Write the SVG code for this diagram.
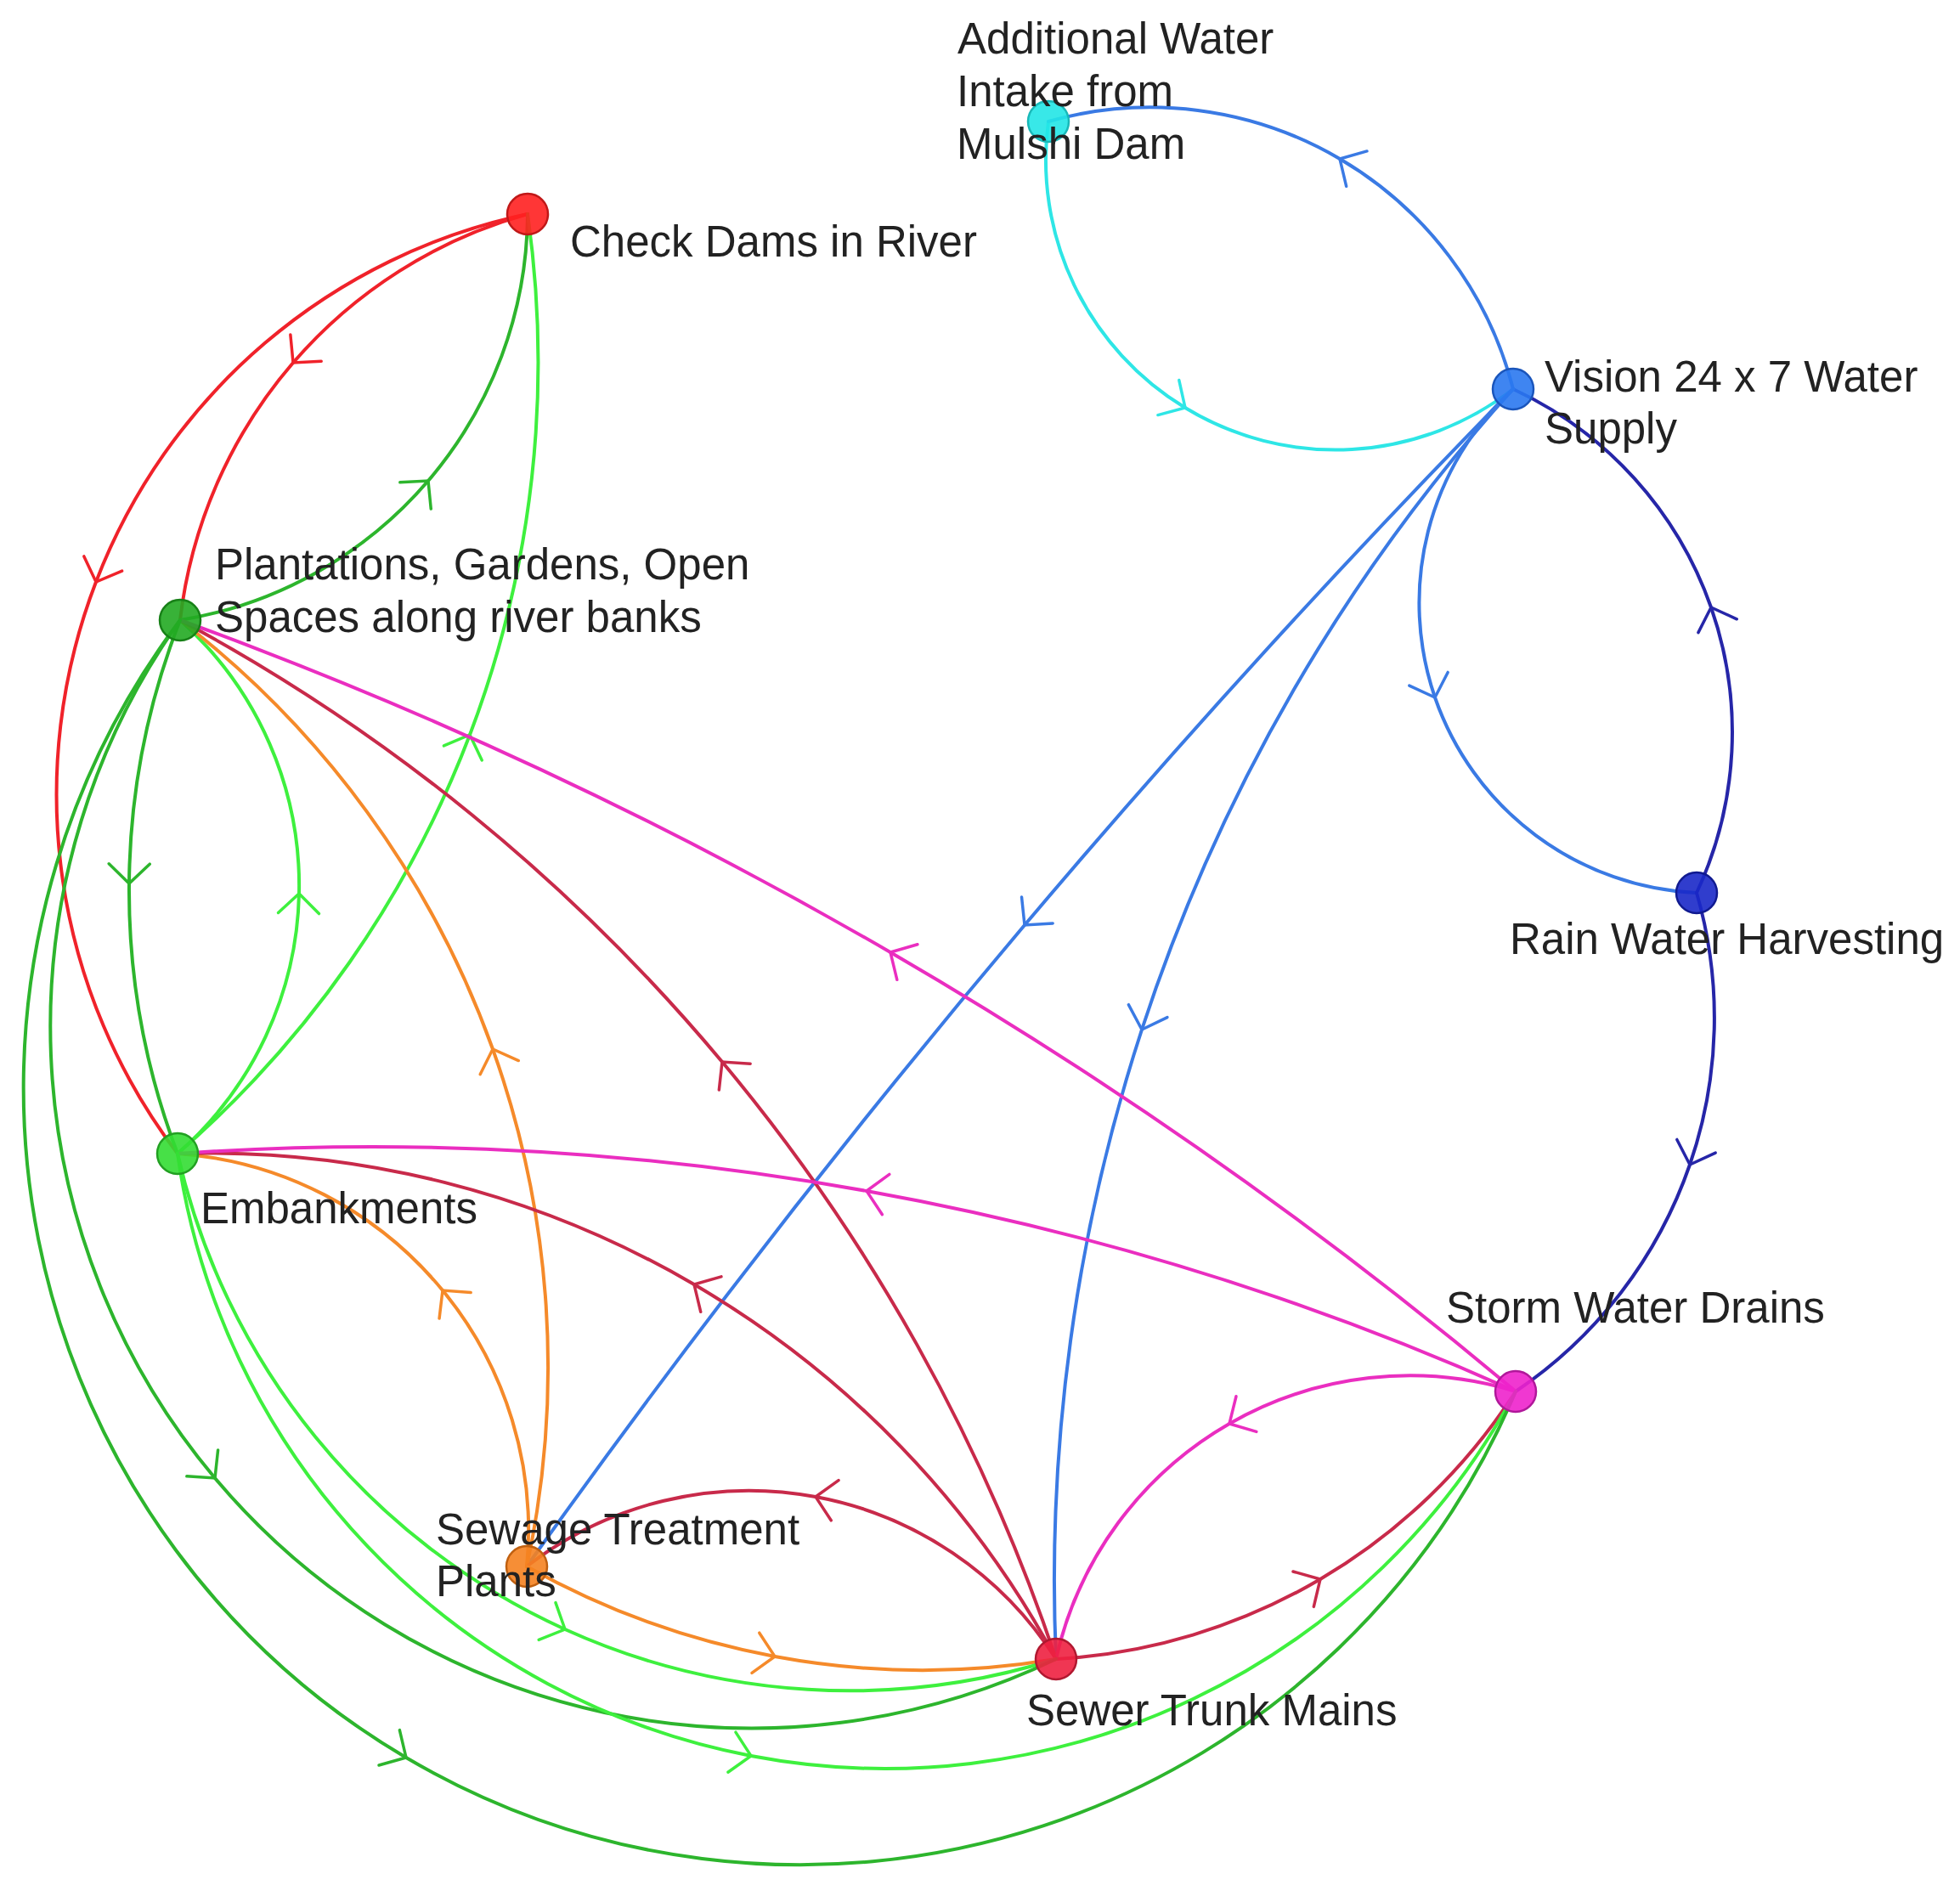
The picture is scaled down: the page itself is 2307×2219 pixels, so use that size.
<svg xmlns="http://www.w3.org/2000/svg" width="2307" height="2219" viewBox="0 0 2307 2219">
<style>
.bg{fill:#ffffff}
.e{fill:none;stroke-width:4;stroke-linecap:round}
.cy{stroke:#2ee6e6}.bl{stroke:#3a7ae4}.nv{stroke:#2626a8}.rd{stroke:#f0222a}
.dg{stroke:#2db52d}.lg{stroke:#3ef03e}.or{stroke:#f58a2a}.cr{stroke:#c82a4a}.mg{stroke:#ea2ec0}
.n{stroke-width:2.5;fill-opacity:0.9}
.t{font-family:"Liberation Sans",Arial,sans-serif;font-size:51px;fill:#222222}
.ah{fill:none;stroke-width:3.5;stroke-linecap:round;stroke-linejoin:miter}
</style>
<defs>
<marker id="a-cy" viewBox="-40 -40 80 80" markerWidth="80" markerHeight="80" markerUnits="userSpaceOnUse" orient="auto"><path class="ah" stroke="#2ee6e6" d="M-23,-24 L0,0 L-23,24"/></marker>
<marker id="a-bl" viewBox="-40 -40 80 80" markerWidth="80" markerHeight="80" markerUnits="userSpaceOnUse" orient="auto"><path class="ah" stroke="#3a7ae4" d="M-23,-24 L0,0 L-23,24"/></marker>
<marker id="a-nv" viewBox="-40 -40 80 80" markerWidth="80" markerHeight="80" markerUnits="userSpaceOnUse" orient="auto"><path class="ah" stroke="#2626a8" d="M-23,-24 L0,0 L-23,24"/></marker>
<marker id="a-rd" viewBox="-40 -40 80 80" markerWidth="80" markerHeight="80" markerUnits="userSpaceOnUse" orient="auto"><path class="ah" stroke="#f0222a" d="M-23,-24 L0,0 L-23,24"/></marker>
<marker id="a-dg" viewBox="-40 -40 80 80" markerWidth="80" markerHeight="80" markerUnits="userSpaceOnUse" orient="auto"><path class="ah" stroke="#2db52d" d="M-23,-24 L0,0 L-23,24"/></marker>
<marker id="a-lg" viewBox="-40 -40 80 80" markerWidth="80" markerHeight="80" markerUnits="userSpaceOnUse" orient="auto"><path class="ah" stroke="#3ef03e" d="M-23,-24 L0,0 L-23,24"/></marker>
<marker id="a-or" viewBox="-40 -40 80 80" markerWidth="80" markerHeight="80" markerUnits="userSpaceOnUse" orient="auto"><path class="ah" stroke="#f58a2a" d="M-23,-24 L0,0 L-23,24"/></marker>
<marker id="a-cr" viewBox="-40 -40 80 80" markerWidth="80" markerHeight="80" markerUnits="userSpaceOnUse" orient="auto"><path class="ah" stroke="#c82a4a" d="M-23,-24 L0,0 L-23,24"/></marker>
<marker id="a-mg" viewBox="-40 -40 80 80" markerWidth="80" markerHeight="80" markerUnits="userSpaceOnUse" orient="auto"><path class="ah" stroke="#ea2ec0" d="M-23,-24 L0,0 L-23,24"/></marker>
</defs>
<rect class="bg" x="0" y="0" width="2307" height="2219"/>
<g id="connectors">
<path id="e-mulshi-vision" class="e cy" marker-mid="url(#a-cy)" d="M1234,143 A341,341 0 0 0 1395,480 A341,341 0 0 0 1781,458"/>
<path id="e-vision-mulshi" class="e bl" marker-mid="url(#a-bl)" d="M1781,458 A441,441 0 0 0 1577,187 A441,441 0 0 0 1234,143"/>
<path id="e-vision-rwh" class="e bl" marker-mid="url(#a-bl)" d="M1781,458 A342,342 0 0 0 1689,821 A342,342 0 0 0 1997,1051"/>
<path id="e-rwh-vision" class="e nv" marker-mid="url(#a-nv)" d="M1997,1051 A446,446 0 0 0 2014,715 A446,446 0 0 0 1781,458"/>
<path id="e-rwh-storm" class="e nv" marker-mid="url(#a-nv)" d="M1997,1051 A530,530 0 0 1 1989,1371 A530,530 0 0 1 1784,1638"/>
<path id="e-vision-stp" class="e bl" marker-mid="url(#a-bl)" d="M1781,458 A11460,11460 0 0 0 1206,1089 A11460,11460 0 0 0 620,1844"/>
<path id="e-vision-sewer" class="e bl" marker-mid="url(#a-bl)" d="M1781,458 A2091,2091 0 0 0 1344,1212 A2091,2091 0 0 0 1243,1953"/>
<path id="e-check-plant" class="e rd" marker-mid="url(#a-rd)" d="M621,252 A564,564 0 0 0 345,427 A564,564 0 0 0 212,730"/>
<path id="e-check-emb" class="e rd" marker-mid="url(#a-rd)" d="M621,252 A698,698 0 0 0 113,685 A698,698 0 0 0 209,1358"/>
<path id="e-plant-check" class="e dg" marker-mid="url(#a-dg)" d="M212,730 A487,487 0 0 0 504,566 A487,487 0 0 0 621,252"/>
<path id="e-emb-check" class="e lg" marker-mid="url(#a-lg)" d="M209,1358 A1234,1234 0 0 0 553,865 A1234,1234 0 0 0 621,252"/>
<path id="e-plant-emb" class="e dg" marker-mid="url(#a-dg)" d="M212,730 A872,872 0 0 0 152,1040 A872,872 0 0 0 209,1358"/>
<path id="e-emb-plant" class="e lg" marker-mid="url(#a-lg)" d="M209,1358 A419,419 0 0 0 352,1052 A419,419 0 0 0 212,730"/>
<path id="e-stp-plant" class="e or" marker-mid="url(#a-or)" d="M620,1844 A1110,1110 0 0 0 580,1235 A1110,1110 0 0 0 212,730"/>
<path id="e-stp-emb" class="e or" marker-mid="url(#a-or)" d="M620,1844 A444,444 0 0 0 521,1519 A444,444 0 0 0 209,1358"/>
<path id="e-sewer-plant" class="e cr" marker-mid="url(#a-cr)" d="M1243,1953 A2172,2172 0 0 0 850,1250 A2172,2172 0 0 0 212,730"/>
<path id="e-sewer-emb" class="e cr" marker-mid="url(#a-cr)" d="M1243,1953 A1133,1133 0 0 0 817,1512 A1133,1133 0 0 0 209,1358"/>
<path id="e-storm-plant" class="e mg" marker-mid="url(#a-mg)" d="M1784,1638 A5216,5216 0 0 0 1048,1121 A5216,5216 0 0 0 212,730"/>
<path id="e-storm-emb" class="e mg" marker-mid="url(#a-mg)" d="M1784,1638 A3292,3292 0 0 0 1020,1402 A3292,3292 0 0 0 209,1358"/>
<path id="e-storm-sewer" class="e mg" marker-mid="url(#a-mg)" d="M1784,1638 A427,427 0 0 0 1447,1676 A427,427 0 0 0 1243,1953"/>
<path id="e-sewer-stp" class="e cr" marker-mid="url(#a-cr)" d="M1243,1953 A428,428 0 0 0 960,1762 A428,428 0 0 0 620,1844"/>
<path id="e-stp-sewer" class="e or" marker-mid="url(#a-or)" d="M620,1844 A950,950 0 0 0 912,1950 A950,950 0 0 0 1243,1953"/>
<path id="e-sewer-storm" class="e cr" marker-mid="url(#a-cr)" d="M1243,1953 A689,689 0 0 0 1554,1859 A689,689 0 0 0 1784,1638"/>
<path id="e-emb-sewer" class="e lg" marker-mid="url(#a-lg)" d="M209,1358 A811,811 0 0 0 665,1918 A811,811 0 0 0 1243,1953"/>
<path id="e-plant-sewer" class="e dg" marker-mid="url(#a-dg)" d="M212,730 A826,826 0 0 0 253,1740 A826,826 0 0 0 1243,1953"/>
<path id="e-emb-storm" class="e lg" marker-mid="url(#a-lg)" d="M209,1358 A842,842 0 0 0 884,2067 A842,842 0 0 0 1784,1638"/>
<path id="e-plant-storm" class="e dg" marker-mid="url(#a-dg)" d="M212,730 A915,915 0 0 0 478,2069 A915,915 0 0 0 1784,1638"/>
</g>
<g id="node-mulshi"><circle class="n" cx="1234" cy="143" r="24" fill="#22e6e6" stroke="#19b8b8"/><text class="t" x="1127" y="63">Additional Water</text><text class="t" x="1126" y="125">Intake from</text><text class="t" x="1126" y="187">Mulshi Dam</text></g>
<g id="node-vision"><circle class="n" cx="1781" cy="458" r="24" fill="#2a78f0" stroke="#1a55bb"/><text class="t" x="1818" y="461">Vision 24 x 7 Water</text><text class="t" x="1818" y="522">Supply</text></g>
<g id="node-rwh"><circle class="n" cx="1997" cy="1051" r="24" fill="#1a28c8" stroke="#101a90"/><text class="t" x="1777" y="1123">Rain Water Harvesting</text></g>
<g id="node-storm"><circle class="n" cx="1784" cy="1638" r="24" fill="#ee22cc" stroke="#b0189a"/><text class="t" x="1702" y="1557">Storm Water Drains</text></g>
<g id="node-sewer"><circle class="n" cx="1243" cy="1953" r="24" fill="#ee2040" stroke="#b01830"/><text class="t" x="1208" y="2031">Sewer Trunk Mains</text></g>
<g id="node-stp"><circle class="n" cx="620" cy="1844" r="24" fill="#f58220" stroke="#c06010"/><text class="t" x="513" y="1818">Sewage Treatment</text><text class="t" x="513" y="1879">Plants</text></g>
<g id="node-emb"><circle class="n" cx="209" cy="1358" r="24" fill="#33dd33" stroke="#22a022"/><text class="t" x="236" y="1440">Embankments</text></g>
<g id="node-plant"><circle class="n" cx="212" cy="730" r="24" fill="#22aa22" stroke="#178017"/><text class="t" x="253" y="682">Plantations, Gardens, Open</text><text class="t" x="253" y="744">Spaces along river banks</text></g>
<g id="node-check"><circle class="n" cx="621" cy="252" r="24" fill="#ff2020" stroke="#c01818"/><text class="t" x="671" y="302">Check Dams in River</text></g>
</svg>
